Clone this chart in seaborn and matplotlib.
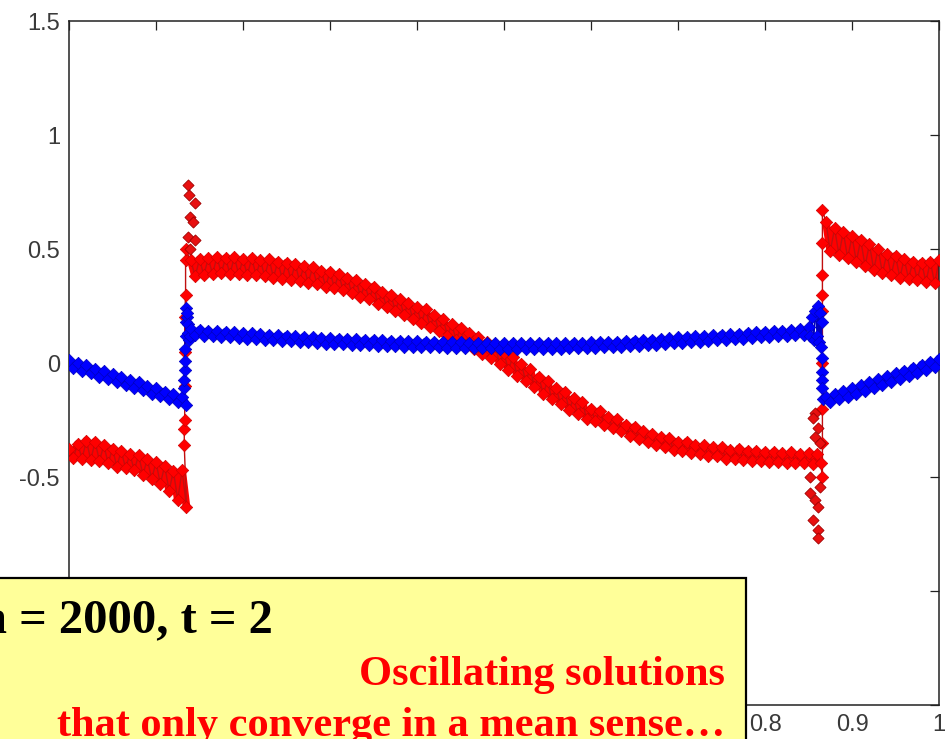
import numpy as np
import pandas as pd
import matplotlib
matplotlib.use("Agg")
import matplotlib.pyplot as plt
import seaborn as sns
from matplotlib.patches import Rectangle

# ---------------- data ----------------
# Segment A (x = 0 .. 0.13): upper points on x grid 0.00,0.01,..; lower points offset by 0.005
red_a_top = [-0.375, -0.355, -0.34, -0.345, -0.36, -0.375, -0.385, -0.40, -0.405, -0.42,
             -0.435, -0.45, -0.475, -0.47]
red_a_bot = [-0.415, -0.42, -0.425, -0.43, -0.44, -0.455, -0.46, -0.47, -0.49, -0.51,
             -0.53, -0.56, -0.60, -0.63]
blue_a_top = [0.015, 0.0, -0.01, -0.025, -0.035, -0.05, -0.06, -0.075, -0.085, -0.10,
              -0.11, -0.125, -0.135, -0.15]
blue_a_bot = [-0.02, -0.035, -0.045, -0.06, -0.07, -0.085, -0.095, -0.11, -0.12, -0.135,
              -0.145, -0.16, -0.17, -0.185]

# Segment B (x = 0.14 .. 0.86)
red_b_top = [0.45, 0.455, 0.46, 0.465, 0.46, 0.465, 0.455, 0.46, 0.45, 0.455,
             0.445, 0.44, 0.435, 0.425, 0.42, 0.405, 0.40, 0.39, 0.375, 0.365,
             0.345, 0.335, 0.31, 0.30, 0.28, 0.265, 0.245, 0.235, 0.21, 0.195,
             0.17, 0.155, 0.13, 0.115, 0.09, 0.075, 0.045, 0.025, -0.005, -0.025,
             -0.06, -0.08, -0.11, -0.125, -0.155, -0.17, -0.20, -0.21, -0.235, -0.245,
             -0.27, -0.28, -0.30, -0.31, -0.325, -0.33, -0.345, -0.345, -0.36, -0.36,
             -0.37, -0.37, -0.38, -0.375, -0.385, -0.385, -0.39, -0.39, -0.395, -0.39,
             -0.40, -0.395, -0.40]
red_b_bot = [0.38, 0.385, 0.39, 0.395, 0.39, 0.39, 0.385, 0.385, 0.38, 0.375,
             0.37, 0.365, 0.36, 0.35, 0.345, 0.335, 0.33, 0.32, 0.305, 0.29,
             0.28, 0.26, 0.245, 0.23, 0.21, 0.195, 0.175, 0.16, 0.14, 0.12,
             0.10, 0.08, 0.06, 0.04, 0.02, -0.005, -0.03, -0.055, -0.08, -0.105,
             -0.135, -0.16, -0.18, -0.205, -0.225, -0.245, -0.255, -0.27, -0.285, -0.30,
             -0.32, -0.335, -0.345, -0.36, -0.37, -0.38, -0.385, -0.395, -0.40, -0.41,
             -0.41, -0.42, -0.42, -0.425, -0.43, -0.43, -0.435, -0.435, -0.44, -0.44,
             -0.44, -0.445]
blue_b_top = [0.147, 0.145, 0.142, 0.140, 0.137, 0.135, 0.132, 0.130, 0.127, 0.125,
              0.122, 0.120, 0.117, 0.115, 0.112, 0.110, 0.109, 0.107, 0.106, 0.104,
              0.102, 0.101, 0.100, 0.098, 0.097, 0.096, 0.095, 0.094, 0.093, 0.092,
              0.091, 0.090, 0.089, 0.089, 0.088, 0.088, 0.087, 0.087, 0.087, 0.087,
              0.087, 0.087, 0.087, 0.087, 0.088, 0.089, 0.090, 0.091, 0.092, 0.094,
              0.096, 0.098, 0.100, 0.102, 0.105, 0.108, 0.112, 0.114, 0.117, 0.119,
              0.122, 0.124, 0.127, 0.129, 0.132, 0.135, 0.137, 0.140, 0.142, 0.145,
              0.149]
blue_b_bot = [0.122, 0.120, 0.117, 0.115, 0.112, 0.110, 0.107, 0.105, 0.102, 0.100,
              0.097, 0.095, 0.092, 0.090, 0.087, 0.085, 0.084, 0.082, 0.081, 0.079,
              0.077, 0.076, 0.075, 0.073, 0.072, 0.071, 0.070, 0.069, 0.068, 0.067,
              0.066, 0.065, 0.065, 0.064, 0.064, 0.063, 0.063, 0.063, 0.063, 0.063,
              0.063, 0.063, 0.063, 0.064, 0.065, 0.066, 0.067, 0.068, 0.070, 0.072,
              0.074, 0.076, 0.078, 0.080, 0.083, 0.086, 0.089, 0.092, 0.094, 0.096,
              0.099, 0.101, 0.104, 0.106, 0.109, 0.112, 0.114, 0.117, 0.119, 0.122]

# Segment C (x = 0.87 .. 1.00)
red_c_top = [0.62, 0.59, 0.575, 0.555, 0.54, 0.52, 0.50, 0.48, 0.47, 0.455,
             0.445, 0.44, 0.445, 0.45]
red_c_bot = [0.49, 0.475, 0.46, 0.445, 0.425, 0.41, 0.395, 0.385, 0.375, 0.37,
             0.365, 0.355, 0.35]
blue_c_top = [-0.150, -0.137, -0.124, -0.111, -0.098, -0.085, -0.072, -0.059, -0.046, -0.033,
              -0.020, -0.007, 0.006, 0.019]
blue_c_bot = [-0.173, -0.160, -0.147, -0.134, -0.121, -0.108, -0.095, -0.082, -0.069, -0.056,
              -0.043, -0.030, -0.017]

# points along the two discontinuities (x ~ 0.133 and x ~ 0.866)
red_jump1_x = [0.1325, 0.1325, 0.133, 0.133, 0.133, 0.133, 0.134, 0.134, 0.134]
red_jump1_y = [-0.36, -0.29, -0.25, -0.10, 0.05, 0.20, 0.30, 0.45, 0.50]
red_jump2_x = [0.864, 0.866, 0.866, 0.866, 0.866, 0.866, 0.866, 0.866, 0.866, 0.866]
red_jump2_y = [-0.44, -0.50, -0.35, -0.20, 0.0, 0.23, 0.30, 0.386, 0.526, 0.67]
blue_jump1_x = [0.132, 0.132, 0.133, 0.133, 0.133, 0.134, 0.134, 0.135, 0.136, 0.137,
                0.136, 0.138, 0.137, 0.139]
blue_jump1_y = [-0.11, -0.075, -0.03, 0.01, 0.06, 0.12, 0.18, 0.24, 0.20, 0.13,
                0.22, 0.10, 0.17, 0.12]
blue_jump2_x = [0.845, 0.85, 0.852, 0.854, 0.856, 0.858, 0.86, 0.861, 0.862, 0.863,
                0.864, 0.865, 0.866, 0.866, 0.866, 0.866, 0.867]
blue_jump2_y = [0.125, 0.16, 0.12, 0.20, 0.10, 0.23, 0.12, 0.25, 0.09, 0.22,
                0.07, 0.18, 0.02, -0.04, -0.075, -0.11, -0.16]

# isolated overshoot points (markers only)
red_spike1_x = [0.1372, 0.1383, 0.1448, 0.139, 0.1429, 0.137, 0.1448, 0.139]
red_spike1_y = [0.78, 0.737, 0.70, 0.64, 0.62, 0.554, 0.54, 0.50]
red_spike2_x = [0.8575, 0.8556, 0.8613, 0.8575, 0.8632, 0.8517, 0.8632, 0.8517, 0.8575,
                0.8613, 0.8556, 0.8613, 0.8613]
red_spike2_y = [-0.22, -0.243, -0.287, -0.323, -0.352, -0.499, -0.543, -0.572, -0.60,
                -0.63, -0.689, -0.732, -0.769]

x_ticks = [0, 0.1, 0.2, 0.3, 0.4, 0.5, 0.6, 0.7, 0.8, 0.9, 1]
# labels 0 .. 0.7 lie under the yellow box in the reference
x_tick_labels = ["", "", "", "", "", "", "", "", "0.8", "0.9", "1"]
y_ticks = [-1.5, -1, -0.5, 0, 0.5, 1, 1.5]
y_tick_labels = ["", "", "-0.5", "0", "0.5", "1", "1.5"]

title_text = "n = 2000, t = 2"
note_line1 = "Oscillating solutions"
note_line2 = "that only converge in a mean sense\u2026"


def grid(start, n):
    return [round(start + 0.01 * i, 4) for i in range(n)]


def merge(x0, top, bot):
    xt = grid(x0, len(top))
    xb = grid(x0 + 0.005, len(bot))
    pts = list(zip(xt, top)) + list(zip(xb, bot))
    pts.sort(key=lambda p: p[0])
    return [p[0] for p in pts], [p[1] for p in pts]


def build(a, b, c, j1x, j1y, j2x, j2y):
    xs, ys = [], []
    for seg, jx, jy in ((a, j1x, j1y), (b, j2x, j2y), (c, [], [])):
        xs += seg[0] + list(jx)
        ys += seg[1] + list(jy)
    return pd.DataFrame({"x": xs, "y": ys})


red_a = merge(0.0, red_a_top, red_a_bot)
red_b = merge(0.14, red_b_top, red_b_bot)
red_c = merge(0.87, red_c_top, red_c_bot)
blue_a = merge(0.0, blue_a_top, blue_a_bot)
blue_b = merge(0.14, blue_b_top, blue_b_bot)
blue_c = merge(0.87, blue_c_top, blue_c_bot)

red_df = build(red_a, red_b, red_c, red_jump1_x, red_jump1_y, red_jump2_x, red_jump2_y)
blue_df = build(blue_a, blue_b, blue_c, blue_jump1_x, blue_jump1_y, blue_jump2_x, blue_jump2_y)
red_spikes = pd.DataFrame({"x": red_spike1_x + red_spike2_x, "y": red_spike1_y + red_spike2_y})

# ---------------- drawing ----------------
sns.set_theme(style="white")
plt.rcParams["font.family"] = ["Liberation Sans", "DejaVu Sans"]
plt.rcParams["axes.unicode_minus"] = False

fig = plt.figure(figsize=(9.47, 7.39), dpi=100)
fig.patch.set_facecolor("white")
ax = fig.add_axes([69 / 947, 34 / 739, 870 / 947, 684 / 739])

RED, RED_E = "#FF0000", "#D00000"
BLUE, BLUE_E = "#0000FF", "#0000C0"
MS = 40


def draw_band(seg, color, z):
    d = pd.DataFrame({"x": seg[0], "y": seg[1]})
    # thick zig-zag fills the oscillation band
    sns.lineplot(data=d, x="x", y="y", sort=False, estimator=None, color=color,
                 lw=5.5, ax=ax, zorder=z)


# red: filled bands, thin connecting line through jumps, markers
for seg in (red_a, red_b, red_c):
    draw_band(seg, RED, 2)
sns.lineplot(data=red_df, x="x", y="y", sort=False, estimator=None, color="#C01010",
             lw=1.0, ax=ax, zorder=2)
sns.scatterplot(data=red_df, x="x", y="y", marker="D", s=MS, color=RED, edgecolor=RED_E,
                linewidth=0.5, ax=ax, zorder=3)
sns.scatterplot(data=red_spikes, x="x", y="y", marker="D", s=MS - 8, color="#E81010",
                edgecolor="#A00000", linewidth=0.6, ax=ax, zorder=3)

# blue on top
for seg in (blue_a, blue_b, blue_c):
    draw_band(seg, BLUE, 4)
sns.lineplot(data=blue_df, x="x", y="y", sort=False, estimator=None, color="#0000C0",
             lw=1.0, ax=ax, zorder=4)
sns.scatterplot(data=blue_df, x="x", y="y", marker="D", s=MS, color=BLUE, edgecolor=BLUE_E,
                linewidth=0.5, ax=ax, zorder=5)

ax.set_xlim(0, 1)
ax.set_ylim(-1.5, 1.5)
ax.set_xticks(x_ticks)
ax.set_xticklabels(x_tick_labels)
ax.set_yticks(y_ticks)
ax.set_yticklabels(y_tick_labels)
ax.set_xlabel("")
ax.set_ylabel("")
ax.tick_params(direction="in", length=6.5, width=0.9, top=True, right=True,
               labelsize=17, labelcolor="#3a3a3a", color="#222222", pad=6.5)
for sp in ax.spines.values():
    sp.set_visible(True)
    sp.set_color("#222222")
    sp.set_linewidth(1.1)

# yellow annotation box over the lower-left part
rect = Rectangle((-8 / 947, -0.05), (746 + 8) / 947, (739 - 578) / 739 + 0.05,
                 transform=fig.transFigure, facecolor="#FFFF99", edgecolor="black",
                 linewidth=1.6, zorder=10)
fig.add_artist(rect)
fig.text(-20 / 947, (739 - 632) / 739, title_text, family="Liberation Serif",
         fontweight="bold", fontsize=35, color="black", ha="left", va="baseline", zorder=11)
fig.text(725 / 947, (739 - 685) / 739, note_line1, family="Liberation Serif",
         fontweight="bold", fontsize=30.5, color="#FF0000", ha="right", va="baseline", zorder=11)
fig.text(725 / 947, (739 - 736) / 739, note_line2, family="Liberation Serif",
         fontweight="bold", fontsize=30.5, color="#FF0000", ha="right", va="baseline", zorder=11)

fig.savefig("out.png", dpi=100)
